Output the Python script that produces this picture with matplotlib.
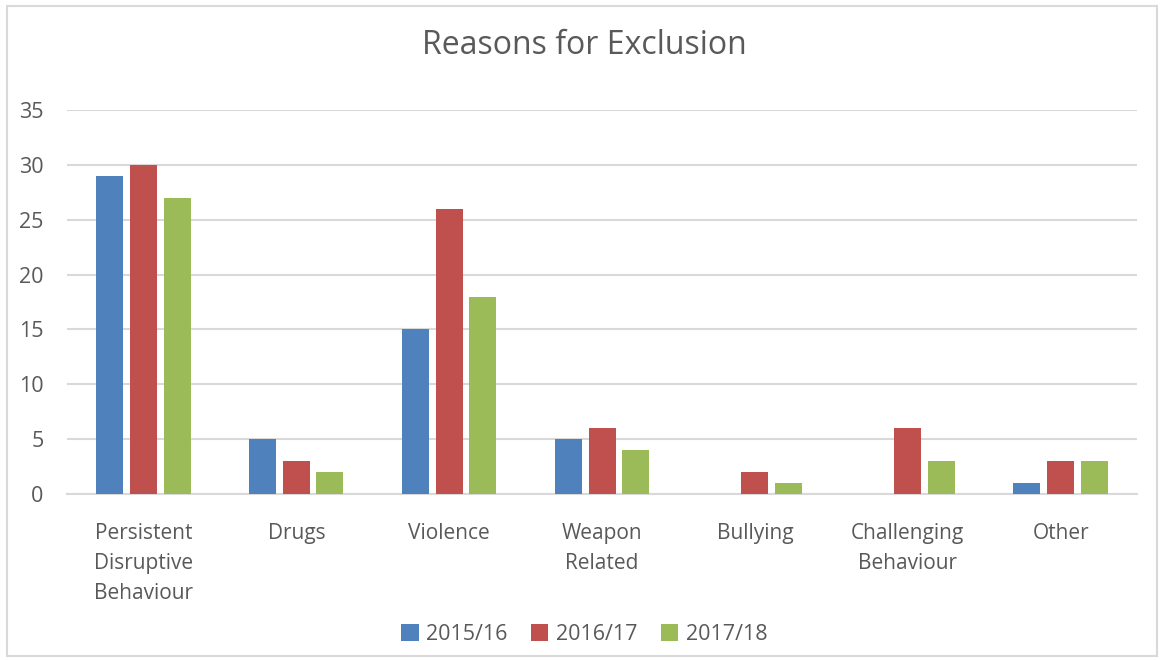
import matplotlib.pyplot as plt
import numpy as np
from matplotlib.patches import Rectangle

categories = ['Persistent\nDisruptive\nBehaviour', 'Drugs', 'Violence',
              'Weapon\nRelated', 'Bullying', 'Challenging\nBehaviour', 'Other']
years = ['2015/16', '2016/17', '2017/18']
y2015 = [29, 5, 15, 5, 0, 0, 1]
y2016 = [30, 3, 26, 6, 2, 6, 3]
y2017 = [27, 2, 18, 4, 1, 3, 3]
colors = ['#4F81BD', '#C0504D', '#9BBB59']

plt.rcParams['font.family'] = ['Open Sans', 'DejaVu Sans']
text_col = '#595959'

fig = plt.figure(figsize=(11.62, 6.6), dpi=100)
ax = fig.add_axes([0.0577, 0.2515, 0.9208, 0.5818])

# outer chart frame
fig.patches.append(Rectangle((7 / 1162, 4 / 660), 1150 / 1162, 650 / 660,
                             transform=fig.transFigure, fill=False,
                             edgecolor='#d9d9d9', linewidth=1.5))

x = np.arange(len(categories))
w = 0.177
step = 0.22
for i, (vals, lab) in enumerate(zip([y2015, y2016, y2017], years)):
    ax.bar(x + (i - 1) * step, vals, width=w, color=colors[i], label=lab, zorder=3)

ax.set_xlim(-0.5, len(categories) - 0.5)
ax.set_ylim(0, 35)
ax.set_yticks(range(0, 36, 5))
ax.yaxis.grid(True, color='#d9d9d9', linewidth=1.5, zorder=0)
ax.set_axisbelow(True)
for s in ['top', 'right', 'left']:
    ax.spines[s].set_visible(False)
ax.spines['bottom'].set_color('#d9d9d9')
ax.spines['bottom'].set_linewidth(1.5)

ax.set_xticks(x)
ax.set_xticklabels(categories, fontsize=15, color=text_col, linespacing=1.55,
                   va='top')
ax.tick_params(axis='x', length=0, pad=21)
ax.tick_params(axis='y', length=0, labelsize=15.5, labelcolor=text_col, pad=17)

fig.text(0.503, 0.931, 'Reasons for Exclusion', ha='center', va='center',
         fontsize=23, color=text_col)

fig.legend(loc='center', bbox_to_anchor=(0.503, 0.039), ncol=3, frameon=False,
           fontsize=15.5, labelcolor=text_col, handlelength=0.8, handleheight=0.8,
           handletextpad=0.35, columnspacing=1.1)

fig.savefig('out.png', dpi=100)
